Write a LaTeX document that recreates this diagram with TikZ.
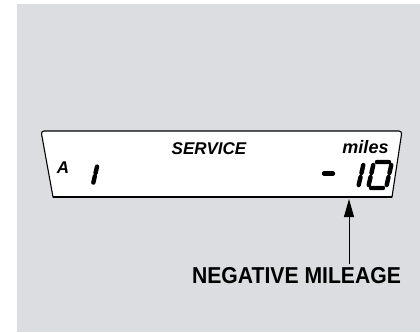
\documentclass[tikz,border=0pt]{standalone}
\usepackage{fontspec}
\setmainfont{Liberation Sans}
\newfontfamily\narrowfont{Liberation Sans}[FakeStretch=0.92]
\usetikzlibrary{arrows.meta}
\definecolor{panelgray}{RGB}{220,221,224}

\begin{document}
\begin{tikzpicture}[x=1pt,y=-1pt,
    lcd/.style={line width=4.4pt,line cap=round},
    lcdtext/.style={font=\bfseries\itshape\fontsize{17}{17}\selectfont,inner sep=0pt,anchor=base}]
  \useasboundingbox (0,0) rectangle (420,332);
  \fill[panelgray] (17,4) rectangle (420,332);
  % display window
  \filldraw[fill=white,line width=1.1pt] (53,197) [rounded corners=3pt] -- (41,131) -- (402,131) [sharp corners] -- (392,197) -- cycle;
  \draw[line width=1.8pt] (53,197) -- (392,197);
  % texts in the display
  \node[lcdtext] (service) at (209,154) {SERVICE};
  \node[lcdtext,font=\bfseries\itshape\fontsize{18}{18}\selectfont] (miles) at (365.5,153) {miles};
  \node[lcdtext] (letterA) at (63,173) {A};
  % segment digits
  \begin{scope}[shift={(78.4,185)},y=1pt,scale=0.8,xslant=0.23]
    \draw[lcd] (18,15) -- (18,23) (18,3) -- (18,11);
  \end{scope}
  \draw[lcd] (324,173.5) -- (333,173.5);
  \begin{scope}[shift={(340,188)},y=1pt,xslant=0.23]
    \draw[lcd] (18,15) -- (18,23) (18,3) -- (18,11);
  \end{scope}
  \begin{scope}[shift={(368,188)},y=1pt,xslant=0.23]
    \draw[lcd] (3,26) -- (15,26) (18,15) -- (18,23) (18,3) -- (18,11)
      (3,0) -- (15,0) (0,3) -- (0,11) (0,15) -- (0,23);
  \end{scope}
  % caption and pointer
  \node[font=\narrowfont\bfseries\fontsize{23}{24}\selectfont,inner sep=0pt,outer sep=3pt,anchor=base] (negative) at (296.5,283) {NEGATIVE MILEAGE};
  \coordinate (pointer) at (349,199);
  \draw[line width=1pt,-{Triangle[length=18pt,width=10pt]}] (negative.north -| pointer) -- (pointer);
\end{tikzpicture}
\end{document}
